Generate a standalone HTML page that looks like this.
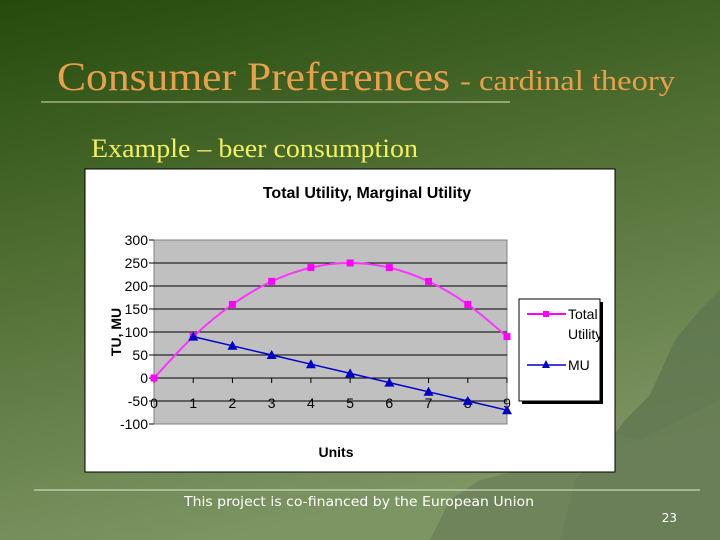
<!DOCTYPE html>
<html><head><meta charset="utf-8"><style>
html,body{margin:0;padding:0;width:720px;height:540px;overflow:hidden}
svg{display:block}
</style></head><body>
<svg width="720" height="540" viewBox="0 0 720 540" xmlns="http://www.w3.org/2000/svg">
<defs>
<linearGradient id="bg" x1="0" y1="0" x2="0.3" y2="1">
<stop offset="0" stop-color="#244a0c"/>
<stop offset="0.45" stop-color="#4f6e32"/>
<stop offset="1" stop-color="#7d9463"/>
</linearGradient>
</defs>
<rect width="720" height="540" fill="url(#bg)"/>
<polygon points="560,540 575,480 600,455 625,420 650,395 675,340 700,310 720,290 720,540" fill="#5f7650" opacity="0.8"/>
<polygon points="430,540 450,500 480,480 520,470 560,455 600,430 640,440 680,420 720,400 720,540" fill="#6b8058" opacity="0.8"/>
<text x="57" y="90" font-family="Liberation Serif, serif" fill="#e8a04c" font-size="40" textLength="393" lengthAdjust="spacingAndGlyphs">Consumer Preferences</text>
<text x="460" y="90" font-family="Liberation Serif, serif" fill="#e8a04c" font-size="29" textLength="215" lengthAdjust="spacingAndGlyphs">- cardinal theory</text>
<line x1="41" y1="102" x2="510" y2="102" stroke="#d8e0c0" stroke-width="1"/>
<text x="91" y="157" font-family="Liberation Serif, serif" font-size="26" fill="#f0f060" textLength="327" lengthAdjust="spacingAndGlyphs">Example – beer consumption</text>

<g id="chart">
<rect x="85" y="169" width="530" height="303" fill="#fff" stroke="#000" stroke-width="1"/>
<text x="367" y="198" text-anchor="middle" font-family="Liberation Sans, sans-serif" font-weight="bold" font-size="16" fill="#000">Total Utility, Marginal Utility</text>
<rect x="154" y="240" width="353" height="184" fill="#c0c0c0" stroke="#808080"/>
<g id="grid"></g>
<g id="yticks"></g>
<g id="xticks"></g>
<g id="series"></g>
<text transform="translate(121,332) rotate(-90)" text-anchor="middle" font-family="Liberation Sans, sans-serif" font-weight="bold" font-size="14">TU, MU</text>
<text x="336" y="457" text-anchor="middle" font-family="Liberation Sans, sans-serif" font-weight="bold" font-size="14">Units</text>
<g>
<rect x="522" y="302" width="81" height="102" fill="#000"/>
<rect x="519" y="299" width="81" height="102" fill="#fff" stroke="#000"/>
<line x1="527" y1="314" x2="566" y2="314" stroke="#ff00ff" stroke-width="2"/>
<rect x="543" y="311" width="6" height="6" fill="#ff00ff"/>
<text x="568" y="319" font-family="Liberation Sans, sans-serif" font-size="14">Total</text>
<text x="568" y="339" font-family="Liberation Sans, sans-serif" font-size="14">Utility</text>
<line x1="527" y1="365" x2="566" y2="365" stroke="#0000cc" stroke-width="1.5"/>
<polygon points="546,360 550,368 542,368" fill="#0000cc"/>
<text x="568" y="370" font-family="Liberation Sans, sans-serif" font-size="14">MU</text>
</g>
</g>

<line x1="34" y1="490" x2="700" y2="490" stroke="#e0e8d0" stroke-width="1"/>
<text x="359" y="506" text-anchor="middle" font-family="DejaVu Sans, sans-serif" font-size="13" fill="#fff" textLength="350" lengthAdjust="spacingAndGlyphs">This project is co-financed by the European Union</text>
<text x="677" y="522" text-anchor="end" font-family="DejaVu Sans, sans-serif" font-size="12" fill="#fff">23</text>
</svg>
<script>
const xCategories=[0,1,2,3,4,5,6,7,8,9];
const tuValues=[0,90,160,210,240,250,240,210,160,90];
const muUnits=[1,2,3,4,5,6,7,8,9];
const muValues=[90,70,50,30,10,-10,-30,-50,-70];
const yTickLabels=[300,250,200,150,100,50,0,-50,-100];
const NS='http://www.w3.org/2000/svg';
const X=v=>154+v*(353/9);
const Y=v=>378-v*0.46;
function mk(tag,attrs,parent){const e=document.createElementNS(NS,tag);for(const k in attrs)e.setAttribute(k,attrs[k]);document.getElementById(parent).appendChild(e);return e;}
yTickLabels.forEach(t=>{
  if(t!==300&&t!==-100){const g=mk('line',{x1:154,x2:507,y1:Y(t),y2:Y(t),stroke:'#000','stroke-width':1},'grid');
  
  }
  mk('line',{x1:149,x2:154,y1:Y(t),y2:Y(t),stroke:'#000'},'yticks');
  const tx=mk('text',{x:148,y:Y(t)+5,'text-anchor':'end','font-family':'Liberation Sans, sans-serif','font-size':14},'yticks');
  
  
  tx.textContent=t;
});
mk('line',{x1:154,x2:507,y1:Y(0),y2:Y(0),stroke:'#000'},'xticks');
xCategories.forEach(c=>{
  mk('line',{x1:X(c),x2:X(c),y1:Y(0),y2:Y(0)+5,stroke:'#000'},'xticks');
  const tx=mk('text',{x:X(c),y:Y(-50)+7,'text-anchor':'middle','font-family':'Liberation Sans, sans-serif','font-size':14},'xticks');
  
  
  tx.textContent=c;
});
const P=xCategories.map((c,i)=>[X(c),Y(tuValues[i])]);
let d='M'+P[0][0]+','+P[0][1];
for(let i=0;i<P.length-1;i++){
  const p0=P[Math.max(i-1,0)],p1=P[i],p2=P[i+1],p3=P[Math.min(i+2,P.length-1)];
  const c1=[p1[0]+(p2[0]-p0[0])/6,p1[1]+(p2[1]-p0[1])/6];
  const c2=[p2[0]-(p3[0]-p1[0])/6,p2[1]-(p3[1]-p1[1])/6];
  d+=` C${c1[0]},${c1[1]} ${c2[0]},${c2[1]} ${p2[0]},${p2[1]}`;
}
const tl=mk('path',{d:d,fill:'none',stroke:'#ff33ff','stroke-width':2},'series');


xCategories.forEach((c,i)=>{
  const r=mk('rect',{x:X(c)-3.5,y:Y(tuValues[i])-3.5,width:7,height:7,fill:'#ff00ff'},'series');
  
  
});
const muPts=muUnits.map((c,i)=>X(c)+','+Y(muValues[i])).join(' ');
const ml=mk('polyline',{points:muPts,fill:'none',stroke:'#0000cc','stroke-width':1.5},'series');


muUnits.forEach((c,i)=>{
  const x=X(c),y=Y(muValues[i]);
  const p=mk('polygon',{points:`${x},${y-5} ${x+5},${y+4} ${x-5},${y+4}`,fill:'#0000cc'},'series');
  
  
});
</script>
</body></html>
